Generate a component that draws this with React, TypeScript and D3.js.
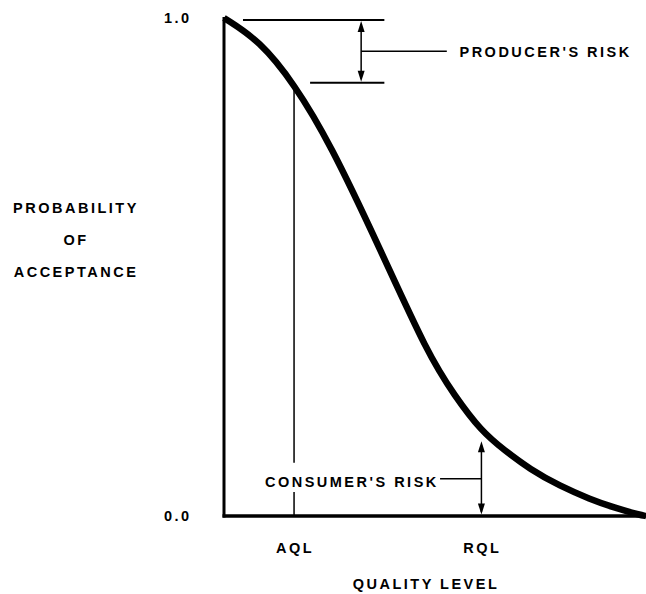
import React from 'react';
import * as d3 from 'd3';

// OC curve: quality level (0-100 arbitrary units) vs probability of acceptance
const qualityLevel = [0, 8.5, 16.6, 25.1, 37.0, 48.3, 54.7, 60.9, 66.6, 72.5, 79.6, 86.7, 92.7, 98.6, 100];
const probAccept = [1.0, 0.954, 0.868, 0.749, 0.536, 0.325, 0.241, 0.171, 0.131, 0.094, 0.06, 0.034, 0.016, 0.002, 0.0];

const yTickValues = [0, 1];
const yTickLabels = ['0.0', '1.0'];
const markerNames = ['AQL', 'RQL'];
const markerValues = [16.6, 61];
const producerRisk = 0.13;
const consumerRisk = 0.15;
const yTitle = ['PROBABILITY', 'OF', 'ACCEPTANCE'];
const xTitle = 'QUALITY LEVEL';
const producerLabel = "PRODUCER'S RISK";
const consumerLabel = "CONSUMER'S RISK";

const W = 646;
const H = 594;
const FONT = "'Liberation Sans', Arial, Helvetica, sans-serif";

export default function App() {
  const x = d3.scaleLinear().domain([0, 100]).range([224, 646]);
  const y = d3.scaleLinear().domain([0, 1]).range([516, 18]);

  const pts = qualityLevel.map((q, i) => [q, probAccept[i]] as [number, number]);
  const line = d3
    .line<[number, number]>()
    .x((d) => x(d[0]))
    .y((d) => y(d[1]))
    .curve(d3.curveBasis);

  const aql = markerValues[0];
  const rql = markerValues[1];
  const aqlP = 1 - producerRisk;

  const textStyle: React.CSSProperties = {
    fontFamily: FONT,
    fontWeight: 700,
    fontSize: 14.5,
    letterSpacing: 2.5,
  };

  const arrowUp = (cx: number, tipY: number) =>
    `M${cx},${tipY} L${cx - 3.5},${tipY + 11} L${cx + 3.5},${tipY + 11} Z`;
  const arrowDown = (cx: number, tipY: number) =>
    `M${cx},${tipY} L${cx - 3.5},${tipY - 11} L${cx + 3.5},${tipY - 11} Z`;

  // producer's risk annotation
  const prArrowX = x(32.5);
  const prTop = y(1) + 2;
  const prBot = y(aqlP);
  const prMid = (prTop + prBot) / 2;

  // consumer's risk annotation
  const crX = x(rql);
  const crTop = y(consumerRisk);
  const crBot = y(0);
  const crMid = y(consumerRisk / 2);

  return (
    <svg
      width={W}
      height={H}
      viewBox={`0 0 ${W} ${H}`}
      style={{ position: 'absolute', left: 0, top: 0, background: '#fff' }}
    >
      <rect x={0} y={0} width={W} height={H} fill="#fff" />

      {/* AQL vertical reference line (broken around consumer label) */}
      <line x1={x(aql)} x2={x(aql)} y1={y(aqlP)} y2={y(0.107)} stroke="#000" strokeWidth={1.5} />
      <line x1={x(aql)} x2={x(aql)} y1={y(0.048)} y2={y(0)} stroke="#000" strokeWidth={1.5} />

      {/* axes */}
      <line x1={x(0)} x2={x(0)} y1={y(1) - 1} y2={y(0) + 1.5} stroke="#000" strokeWidth={3} />
      <line x1={x(0) - 1.5} x2={x(100)} y1={y(0)} y2={y(0)} stroke="#000" strokeWidth={3.5} />

      {/* OC curve */}
      <path d={line(pts) || ''} fill="none" stroke="#000" strokeWidth={6.5} strokeLinejoin="round" />

      {/* y tick labels */}
      {yTickValues.map((v, i) => (
        <text key={i} x={164} y={y(v) + 5} style={textStyle} fill="#000">
          {yTickLabels[i]}
        </text>
      ))}

      {/* y title */}
      {yTitle.map((t, i) => (
        <text key={t} x={76} y={213 + i * 32} textAnchor="middle" style={textStyle} fill="#000">
          {t}
        </text>
      ))}

      {/* x markers */}
      {markerNames.map((n, i) => (
        <text key={n} x={x(markerValues[i]) + 1} y={553} textAnchor="middle" style={textStyle} fill="#000">
          {n}
        </text>
      ))}

      {/* x title */}
      <text x={426} y={589} textAnchor="middle" style={textStyle} fill="#000">
        {xTitle}
      </text>

      {/* producer's risk */}
      <line x1={x(4.5)} x2={x(38)} y1={prTop} y2={prTop} stroke="#000" strokeWidth={2} />
      <line x1={x(20.4)} x2={x(38)} y1={prBot} y2={prBot} stroke="#000" strokeWidth={2} />
      <line x1={prArrowX} x2={prArrowX} y1={prTop + 4} y2={prBot - 4} stroke="#000" strokeWidth={1.5} />
      <path d={arrowUp(prArrowX, prTop + 1)} fill="#000" />
      <path d={arrowDown(prArrowX, prBot - 1)} fill="#000" />
      <line x1={prArrowX} x2={x(52.8)} y1={prMid} y2={prMid} stroke="#000" strokeWidth={1.5} />
      <text x={x(55.8)} y={prMid + 5.5} style={textStyle} fill="#000">
        {producerLabel}
      </text>

      {/* consumer's risk */}
      <line x1={crX} x2={crX} y1={crTop + 4} y2={crBot - 4} stroke="#000" strokeWidth={1.5} />
      <path d={arrowUp(crX, crTop)} fill="#000" />
      <path d={arrowDown(crX, crBot - 1.5)} fill="#000" />
      <line x1={x(51.2)} x2={crX} y1={crMid} y2={crMid} stroke="#000" strokeWidth={1.5} />
      <text x={x(50.9)} y={crMid + 8} textAnchor="end" style={textStyle} fill="#000">
        {consumerLabel}
      </text>
    </svg>
  );
}
